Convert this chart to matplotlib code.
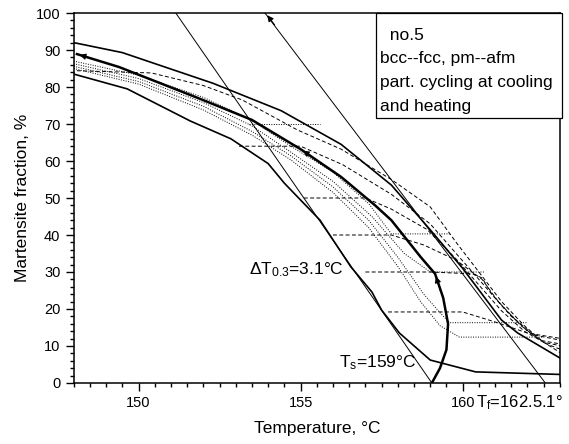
import matplotlib
matplotlib.use('Agg')
import matplotlib.pyplot as plt
from matplotlib.patches import Rectangle
from matplotlib.ticker import MultipleLocator

plt.rcParams['font.family'] = ['Liberation Sans', 'DejaVu Sans']
plt.rcParams['mathtext.fontset'] = 'custom'
plt.rcParams['mathtext.rm'] = 'Liberation Sans'
plt.rcParams['mathtext.it'] = 'Liberation Sans:italic'

# main cooling curve (bold), from T_s upwards
main_T = [159.05, 159.3, 159.5, 159.55, 159.4, 159.15, 158.7, 157.8, 157.3, 156.25, 155.0, 153.5, 151.9, 149.4, 148.1]
main_f = [0.0, 4.0, 9.0, 16.0, 23.0, 29.5, 34.1, 44.0, 48.0, 55.7, 63.2, 71.1, 76.8, 85.4, 88.9]

# outer envelopes
upper_T = [148.0, 149.5, 152.3, 154.4, 156.25, 157.8, 159.0, 160.0, 160.6, 161.2, 161.7, 163.05]
upper_f = [92.0, 89.3, 81.0, 73.6, 64.5, 53.5, 41.4, 31.0, 24.0, 17.0, 13.5, 6.5]
lower_T = [148.0, 149.65, 151.6, 152.85, 154.0, 154.5, 155.6, 156.55, 157.2, 157.5, 158.05, 159.0, 160.4, 163.05]
lower_f = [83.5, 79.5, 70.8, 66.0, 59.3, 54.0, 44.0, 31.4, 24.6, 19.7, 13.5, 6.2, 3.0, 2.3]

# tangent lines for T_s and T_f
ts_T = [151.15, 159.05]
ts_f = [100.0, 0.0]
tf_T = [153.9, 162.55]
tf_f = [100.0, 0.0]

# partial cycling, dashed branches
dash_T = [
    [148.1, 150.4, 152.0, 153.2, 154.9, 156.25, 157.8, 159.0, 159.8, 160.5, 161.2, 161.9, 162.5, 163.05],
    [153.1, 155.0, 156.3, 157.8, 159.0, 159.9, 160.6, 161.3, 162.0, 162.6, 163.05],
    [155.1, 157.0, 157.8, 158.9, 159.8, 160.5, 161.2, 161.9, 162.5, 163.05],
    [156.0, 157.8, 158.8, 159.8, 160.6, 161.1, 161.8, 162.4, 163.05],
    [157.0, 159.0, 160.3, 160.6, 160.9, 161.5, 162.2, 163.05],
    [157.7, 160.0, 161.0, 162.0, 163.05],
]
dash_f = [
    [84.4, 83.8, 80.4, 76.5, 68.4, 63.2, 55.0, 47.6, 38.0, 30.0, 22.0, 15.5, 11.0, 8.0],
    [64.0, 64.0, 59.0, 51.0, 43.0, 34.0, 27.0, 20.0, 14.0, 10.5, 9.0],
    [50.0, 50.0, 47.0, 41.5, 33.5, 26.5, 19.5, 14.0, 11.0, 10.0],
    [40.0, 40.0, 37.3, 33.2, 28.0, 22.0, 15.5, 11.5, 10.5],
    [30.0, 30.0, 29.5, 28.4, 24.0, 18.0, 13.0, 11.5],
    [19.2, 19.2, 16.5, 13.5, 12.0],
]

# partial cycling, dotted branches
dot_T = [
    [148.0, 150.0, 152.0, 153.4, 154.7, 156.0, 157.1, 157.8, 159.65],
    [148.0, 150.0, 152.0, 153.5, 154.7, 156.0, 157.2, 158.2, 159.0, 160.7],
    [148.0, 150.0, 152.0, 153.5, 154.7, 156.0, 157.1, 158.0, 158.8, 159.3, 159.6, 162.0],
    [148.0, 150.0, 152.0, 153.5, 154.7, 156.0, 157.1, 158.0, 158.7, 159.3, 159.9, 162.5],
    [153.4, 155.6],
]
dot_f = [
    [87.0, 83.2, 77.2, 71.5, 64.0, 57.0, 48.5, 40.3, 40.3],
    [86.3, 82.3, 75.8, 69.5, 62.4, 54.5, 45.0, 35.0, 30.0, 30.0],
    [85.6, 81.5, 74.8, 68.0, 61.4, 53.0, 44.0, 34.0, 24.0, 19.0, 16.3, 16.3],
    [85.0, 80.8, 73.8, 67.0, 60.3, 51.5, 42.0, 31.5, 22.0, 15.5, 12.4, 12.4],
    [70.0, 70.0],
]

fig = plt.figure(figsize=(5.69, 4.44), dpi=100)
ax = fig.add_axes([0.1295, 0.1374, 0.8545, 0.8333])

for T, f in zip(dot_T, dot_f):
    ax.plot(T, f, color='k', lw=0.7, ls=(0, (1, 1.5)))
for T, f in zip(dash_T, dash_f):
    ax.plot(T, f, color='k', lw=0.7, ls=(0, (4, 2.5)))

ax.plot(upper_T, upper_f, color='k', lw=1.2)
ax.plot(lower_T, lower_f, color='k', lw=1.2)
ax.plot(ts_T, ts_f, color='k', lw=0.7)
ax.plot(tf_T, tf_f, color='k', lw=0.7)
ax.plot(main_T, main_f, color='k', lw=1.8)

# arrow heads
arr = dict(arrowstyle='-|>', color='k', lw=0.8, mutation_scale=9)
ax.annotate('', xy=(148.1, 88.9), xytext=(148.6, 87.6), arrowprops=arr)
ax.annotate('', xy=(155.0, 63.2), xytext=(155.4, 60.9), arrowprops=arr)
ax.annotate('', xy=(159.15, 29.5), xytext=(159.35, 24.0), arrowprops=arr)
ax.annotate('', xy=(153.92, 100.0), xytext=(154.25, 96.2), arrowprops=arr, annotation_clip=False)

ax.text(153.4, 30.5, r'$\Delta$T$_{\mathrm{0.3}}$=3.1°C', fontsize=12.5, va='center', ha='left')
ax.text(156.2, 5.5, r'T$_{\mathrm{s}}$=159°C', fontsize=12.5, va='center', ha='left')
ax.text(160.4, -5.3, r'T$_{\mathrm{f}}$=162.5.1°', fontsize=12, va='center', ha='left', clip_on=False)

# label box
ax.add_patch(Rectangle((157.33, 71.6), 5.72, 28.4, facecolor='white', edgecolor='k', lw=0.9,
                       zorder=5, clip_on=False))
box_lines = ['  no.5', 'bcc--fcc, pm--afm', 'part. cycling at cooling', 'and heating']
for i, s in enumerate(box_lines):
    ax.text(157.45, 94.0 - i * 6.4, s, fontsize=12.5, va='center', ha='left', zorder=6)

ax.set_xlim(148, 163)
ax.set_ylim(0, 100)
ax.xaxis.set_major_locator(MultipleLocator(5))
ax.xaxis.set_minor_locator(MultipleLocator(0.5))
ax.yaxis.set_major_locator(MultipleLocator(10))
ax.yaxis.set_minor_locator(MultipleLocator(2))
ax.tick_params(which='major', length=6, width=1, labelsize=10.5)
ax.tick_params(which='minor', length=3, width=1)
for s in ax.spines.values():
    s.set_linewidth(1.1)

ax.set_xlabel('Temperature, °C', fontsize=12.5, labelpad=8)
ax.set_ylabel('Martensite fraction, %', fontsize=12.5)

fig.savefig('out.png', dpi=100)
